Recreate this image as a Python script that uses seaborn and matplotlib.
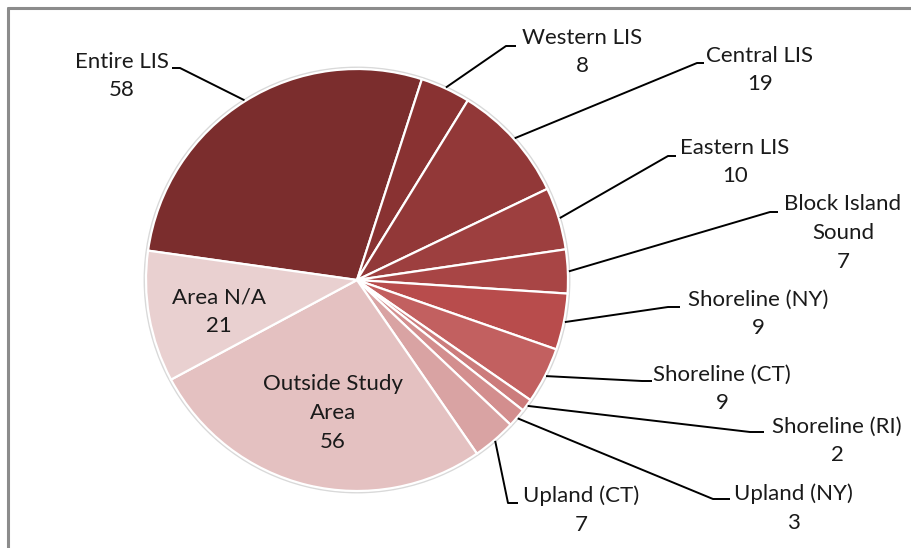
import matplotlib
matplotlib.use("Agg")
import matplotlib.pyplot as plt
import seaborn as sns
import numpy as np
from matplotlib.lines import Line2D
from matplotlib.patches import Circle

# data
categories = ["Entire LIS", "Western LIS", "Central LIS", "Eastern LIS",
              "Block Island\nSound", "Shoreline (NY)", "Shoreline (CT)",
              "Shoreline (RI)", "Upland (NY)", "Upland (CT)",
              "Outside Study\nArea", "Area N/A"]
counts = [58, 8, 19, 10, 7, 9, 9, 2, 3, 7, 56, 21]
colors = ["#7b2d2d", "#893232", "#923838", "#9d3f3f", "#a84545", "#b84c4c",
          "#c26060", "#cc7c7c", "#d38e8e", "#d9a3a3", "#e4c1c1", "#e9d0d0"]

# layout in pixels of the 911x548 picture
W, H = 911, 548
CX, CY, R = 357, 280, 211

# label block centre, and leader elbow points (None = label inside slice)
label_xy = [(122, 76), (582, 52), (760, 70), (735, 162), (843, 233),
            (758, 314), (722, 389), (837, 441), (793, 508), (581, 510),
            (333, 413), (219, 312)]
elbows = [[(180, 68), (172, 68)],
          [(506, 46), (516, 46)],
          [(697, 63), (704, 63)],
          [(668, 156), (676, 156)],
          [(770, 212), (778, 212)],
          [(668, 307), (680, 307)],
          [(642, 381), (652, 381)],
          [(750, 432), (764, 432)],
          [(713, 499), (730, 499)],
          [(508, 503), (518, 503)],
          None, None]


def px(x, y):
    return (x - CX) / R, (CY - y) / R


sns.set_theme(style="white")
plt.rcParams['font.family'] = ['Lato', 'DejaVu Sans']

fig = plt.figure(figsize=(W / 100, H / 100), dpi=100)
ax = fig.add_axes([0, 0, 1, 1])

# faint rim like the original
ax.add_patch(Circle((0, 0), 1.005, facecolor="none", edgecolor="#d9d9d9", lw=2.0, zorder=0))

wedges, _ = ax.pie(counts, colors=colors, startangle=172, counterclock=False,
                   radius=1.0, center=(0, 0),
                   wedgeprops=dict(edgecolor="white", linewidth=1.6))

for w, lab, n, pos, elb in zip(wedges, categories, counts, label_xy, elbows):
    tx, ty = px(*pos)
    ax.text(tx, ty, f"{lab}\n{n}", ha="center", va="center", fontsize=16,
            linespacing=1.55, color="#1a1a1a")
    if elb is None:
        continue
    mid = np.deg2rad((w.theta1 + w.theta2) / 2)
    xs = [np.cos(mid) * 1.005]
    ys = [np.sin(mid) * 1.005]
    for p in elb:
        ex, ey = px(*p)
        xs.append(ex)
        ys.append(ey)
    ax.plot(xs, ys, color="black", lw=1.4, solid_capstyle="butt")

ax.set_xlim(-CX / R, (W - CX) / R)
ax.set_ylim((CY - H) / R, CY / R)
ax.set_aspect("auto")
ax.axis("off")

# chart frame (only top and left edges are visible in the crop)
fig.add_artist(Line2D([8 / W, 1], [1 - 8 / H, 1 - 8 / H], color="#8c8c8c", lw=2.2))
fig.add_artist(Line2D([8 / W, 8 / W], [0, 1 - 8 / H], color="#8c8c8c", lw=2.2))

fig.savefig("out.png", dpi=100, facecolor="white")
